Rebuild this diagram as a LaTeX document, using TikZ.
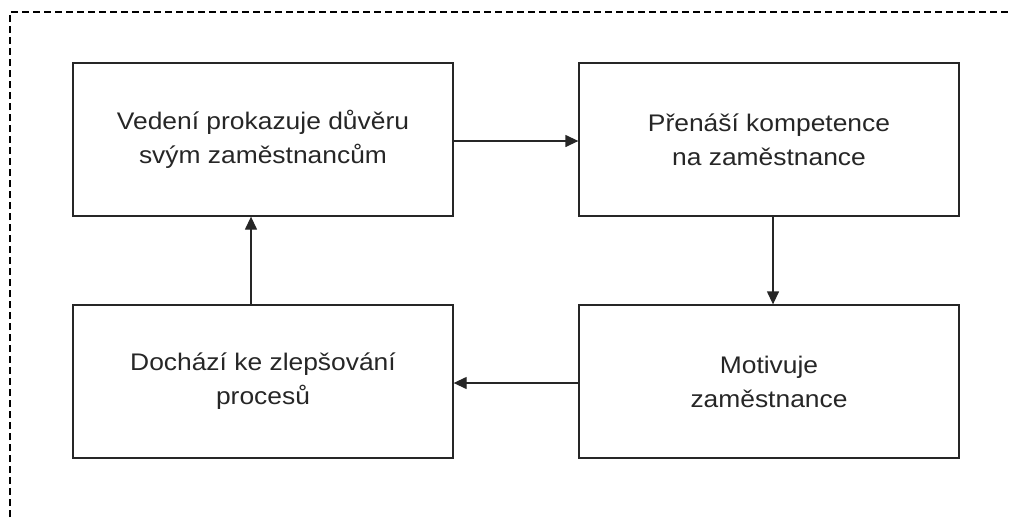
\documentclass[tikz,border=0pt]{standalone}
\usepackage{fontspec}
\setmainfont{Liberation Sans}[FakeStretch=1.1]
\usetikzlibrary{arrows.meta}
\begin{document}
\begin{tikzpicture}[x=1pt,y=-1pt,
  procbox/.style={draw=black!85,line width=1.3pt,minimum width=380pt,minimum height=153pt,
    align=center,inner sep=0pt,font=\fontsize{24}{34}\selectfont,text=black!85},
  flow/.style={draw=black!85,line width=1.3pt,-{Triangle[length=13pt,width=12pt]}},
  frame/.style={draw=black,line width=1.1pt,dash pattern=on 7pt off 4pt}]
\useasboundingbox (0,0) rectangle (1011,517);
\coordinate (fb) at (10,517);
\coordinate (fc) at (10,12);
\coordinate (fr) at (1011,12);
\draw[frame] (fb) -- (fc) -- (fr);
\node[procbox] (A) at (263,139.5) {Vedení prokazuje důvěru\\svým zaměstnancům};
\node[procbox] (B) at (769,139.5) {Přenáší kompetence\\na zaměstnance};
\node[procbox] (C) at (263,381.5) {Dochází ke zlepšování\\procesů};
\node[procbox] (D) at (769,381.5) {Motivuje\\zaměstnance};
\draw[flow] ([yshift=-1.5pt]A.east) -- ([yshift=-1.5pt]B.west);
\draw[flow] ([xshift=4pt]B.south) -- ([xshift=4pt]D.north);
\draw[flow] ([yshift=-1.5pt]D.west) -- ([yshift=-1.5pt]C.east);
\draw[flow] ([xshift=-12pt]C.north) -- ([xshift=-12pt]A.south);
\end{tikzpicture}
\end{document}
